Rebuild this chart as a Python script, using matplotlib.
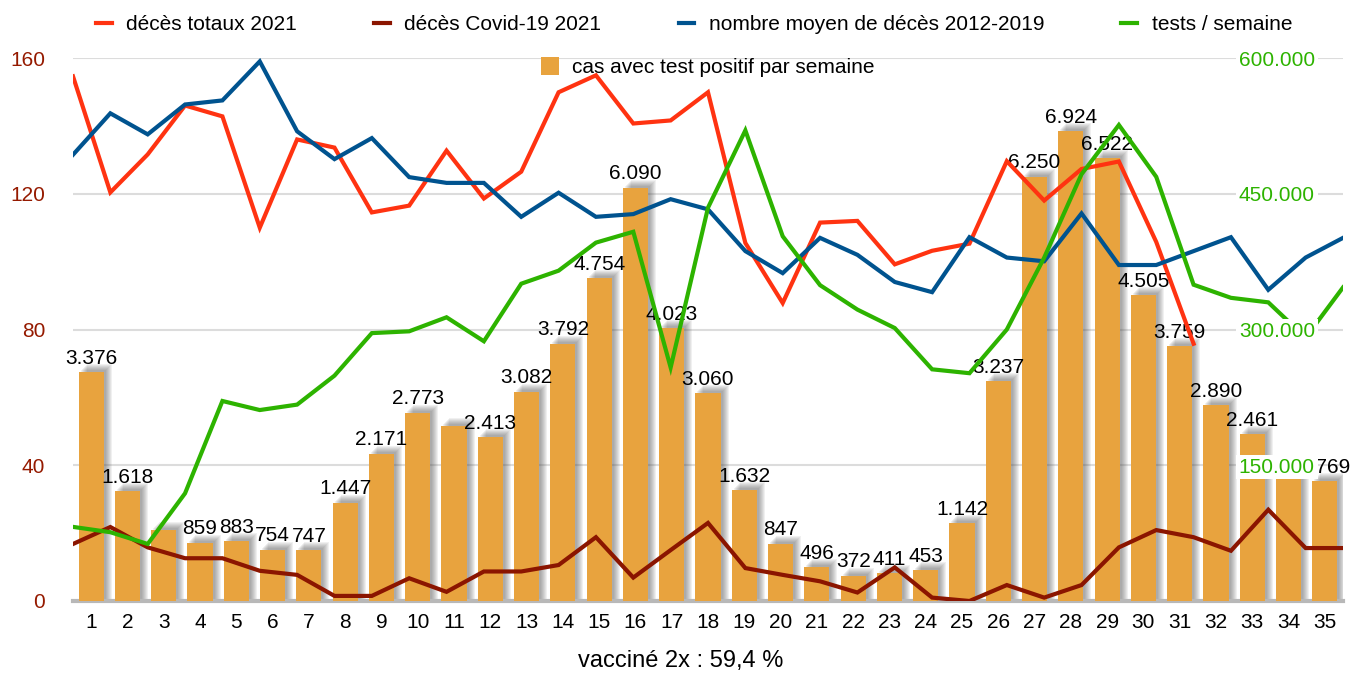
import matplotlib.pyplot as plt
import numpy as np
from matplotlib.lines import Line2D
from matplotlib.patches import Patch

plt.rcParams['font.family'] = ['Liberation Sans', 'DejaVu Sans']

# data
weeks = list(range(1, 36))
cases = [3376, 1618, 1040, 859, 883, 754, 747, 1447, 2171, 2773,
         2585, 2413, 3082, 3792, 4754, 6090, 4023, 3060, 1632, 847,
         496, 372, 411, 453, 1142, 3237, 6250, 6924, 6522, 4505,
         3759, 2890, 2461, 1800, 1769]
hidden_labels = [3, 11, 34]   # labels the original chart does not show

deaths_2021 = [154.6, 120.4, 131.6, 146.0, 142.8, 110.0, 136.0, 133.6, 114.5, 116.5,
               132.7, 118.6, 126.5, 149.9, 154.9, 140.7, 141.6, 149.9, 105.5, 87.8,
               111.5, 112.0, 99.2, 103.2, 105.3, 129.6, 118.0, 127.3, 129.5, 105.8,
               75.8]
covid_2021 = [16.8, 21.8, 15.8, 12.6, 12.6, 8.9, 7.7, 1.5, 1.5, 6.7,
              2.7, 8.7, 8.7, 10.6, 18.8, 6.9, 15.0, 23.0, 9.7, 7.7,
              5.8, 2.5, 9.9, 1.0, 0.0, 4.7, 1.0, 4.7, 15.8, 20.9,
              18.8, 14.8, 26.9, 15.6, 15.6]
mean_2012_2019 = [131.5, 143.7, 137.5, 146.3, 147.5, 159.0, 138.4, 130.2, 136.4, 124.9,
                  123.2, 123.2, 113.2, 120.3, 113.2, 114.0, 118.4, 115.4, 103.1, 96.6,
                  107.0, 102.0, 94.0, 91.0, 107.2, 101.2, 100.1, 114.2, 99.0, 99.0,
                  103.1, 107.2, 91.7, 101.2, 107.0]
tests = [81900, 76000, 63000, 119000, 221000, 211000, 217000, 249000, 296000, 298000,
         313500, 287000, 350600, 365000, 396000, 408000, 258000, 434600, 520000, 403000,
         349000, 322000, 301600, 256000, 251700, 300000, 379400, 471600, 526000, 468700,
         349500, 335000, 330000, 291000, 346500]

left_ticks = [0, 40, 80, 120, 160]
right_ticks = [150000, 300000, 450000, 600000]

c_bar = '#e8a33e'
c_red = '#ff3311'
c_dark = '#8b1500'
c_blue = '#00538f'
c_green = '#2db300'
c_lefttick = '#951a00'

W, H = 1353, 673
fig = plt.figure(figsize=(W / 100, H / 100), dpi=100)
pos = [73 / W, 1 - 601 / H, (1343 - 73) / W, (601 - 58) / H]

# bars (hidden scale 0-8000)
ax = fig.add_axes(pos)
x = np.array(weeks)
cv = np.array(cases)
bw = 0.69
ppx = 1 / 36.3          # data units per pixel, x
ppy = 8000 / 543        # data units per pixel, y
# soft shadow, up and to the right
for d in [8, 7, 6, 5, 4, 3, 2]:
    ax.bar(x + d * ppx, cv + d * ppy, bw, color='#444444', alpha=0.08,
           lw=0, zorder=2)
ax.bar(x, cv, bw, color=c_bar, zorder=3)
for k, v in zip(weeks, cases):
    if k in hidden_labels:
        continue
    ax.annotate(f'{v:,}'.replace(',', '.'), (k, v), xytext=(0, 6),
                textcoords='offset points', ha='center', va='baseline',
                fontsize=15, zorder=4)
ax.set_xlim(0.5, 35.5)
ax.set_ylim(0, 8000)
ax.set_yticks([2000, 4000, 6000, 8000])
ax.set_yticklabels([])
ax.tick_params(axis='y', length=0)
ax.grid(axis='y', color='#dcdcdc', lw=1.5, zorder=0)
ax.set_axisbelow(True)
ax.set_xticks(weeks)
ax.set_xticklabels([str(w) for w in weeks], fontsize=15)
ax.tick_params(axis='x', length=0, pad=9)
for s in ['top', 'left', 'right']:
    ax.spines[s].set_visible(False)
ax.spines['bottom'].set_color('#b8b8b8')
ax.spines['bottom'].set_linewidth(3)

# death lines, left scale
axl = fig.add_axes(pos)
axl.patch.set_alpha(0)
axl.plot(range(1, len(deaths_2021) + 1), deaths_2021, color=c_red, lw=3, solid_joinstyle='miter')
axl.plot(weeks, covid_2021, color=c_dark, lw=3, solid_joinstyle='miter')
axl.plot(weeks, mean_2012_2019, color=c_blue, lw=3, solid_joinstyle='miter')
axl.set_xlim(1, 35)
axl.set_ylim(0, 160)
axl.set_xticks([])
axl.set_yticks(left_ticks)
axl.set_yticklabels([str(t) for t in left_ticks], fontsize=15, color=c_lefttick)
axl.tick_params(axis='y', length=0, pad=20)
for s in axl.spines.values():
    s.set_visible(False)

# tests, right scale (labels sit inside the plot on white boxes)
axg = fig.add_axes(pos)
axg.patch.set_alpha(0)
axg.plot(weeks, tests, color=c_green, lw=3, solid_joinstyle='miter', zorder=1)
axg.set_xlim(1, 35)
axg.set_ylim(0, 600000)
axg.set_xticks([])
axg.yaxis.tick_right()
axg.yaxis.set_zorder(5)
axg.set_yticks(right_ticks)
axg.set_yticklabels([f'{t:,}'.replace(',', '.') for t in right_ticks],
                    fontsize=15, color=c_green)
axg.tick_params(axis='y', length=0, pad=-75)
for lbl in axg.get_yticklabels():
    lbl.set_bbox(dict(facecolor='white', edgecolor='none', pad=2))
for s in axg.spines.values():
    s.set_visible(False)

# legends
h1 = [Line2D([], [], color=c, lw=3) for c in [c_red, c_dark, c_blue, c_green]]
l1 = ['décès totaux 2021', 'décès Covid-19 2021',
      'nombre moyen de décès 2012-2019', 'tests / semaine']
fig.legend(h1, l1, loc='center', bbox_to_anchor=(0.513, 0.963), ncol=4,
           frameon=False, fontsize=15, handlelength=0.75, handletextpad=0.7,
           columnspacing=3.7)
fig.legend([Patch(facecolor=c_bar)], ['cas avec test positif par semaine'],
           loc='center', bbox_to_anchor=(0.523, 0.9), frameon=False, fontsize=15,
           handlelength=0.9, handleheight=0.9, handletextpad=0.6)

fig.text(681 / W, 1 - 661 / H, 'vacciné 2x : 59,4 %', ha='center', va='center',
         fontsize=17)

fig.savefig('out.png', dpi=100)
